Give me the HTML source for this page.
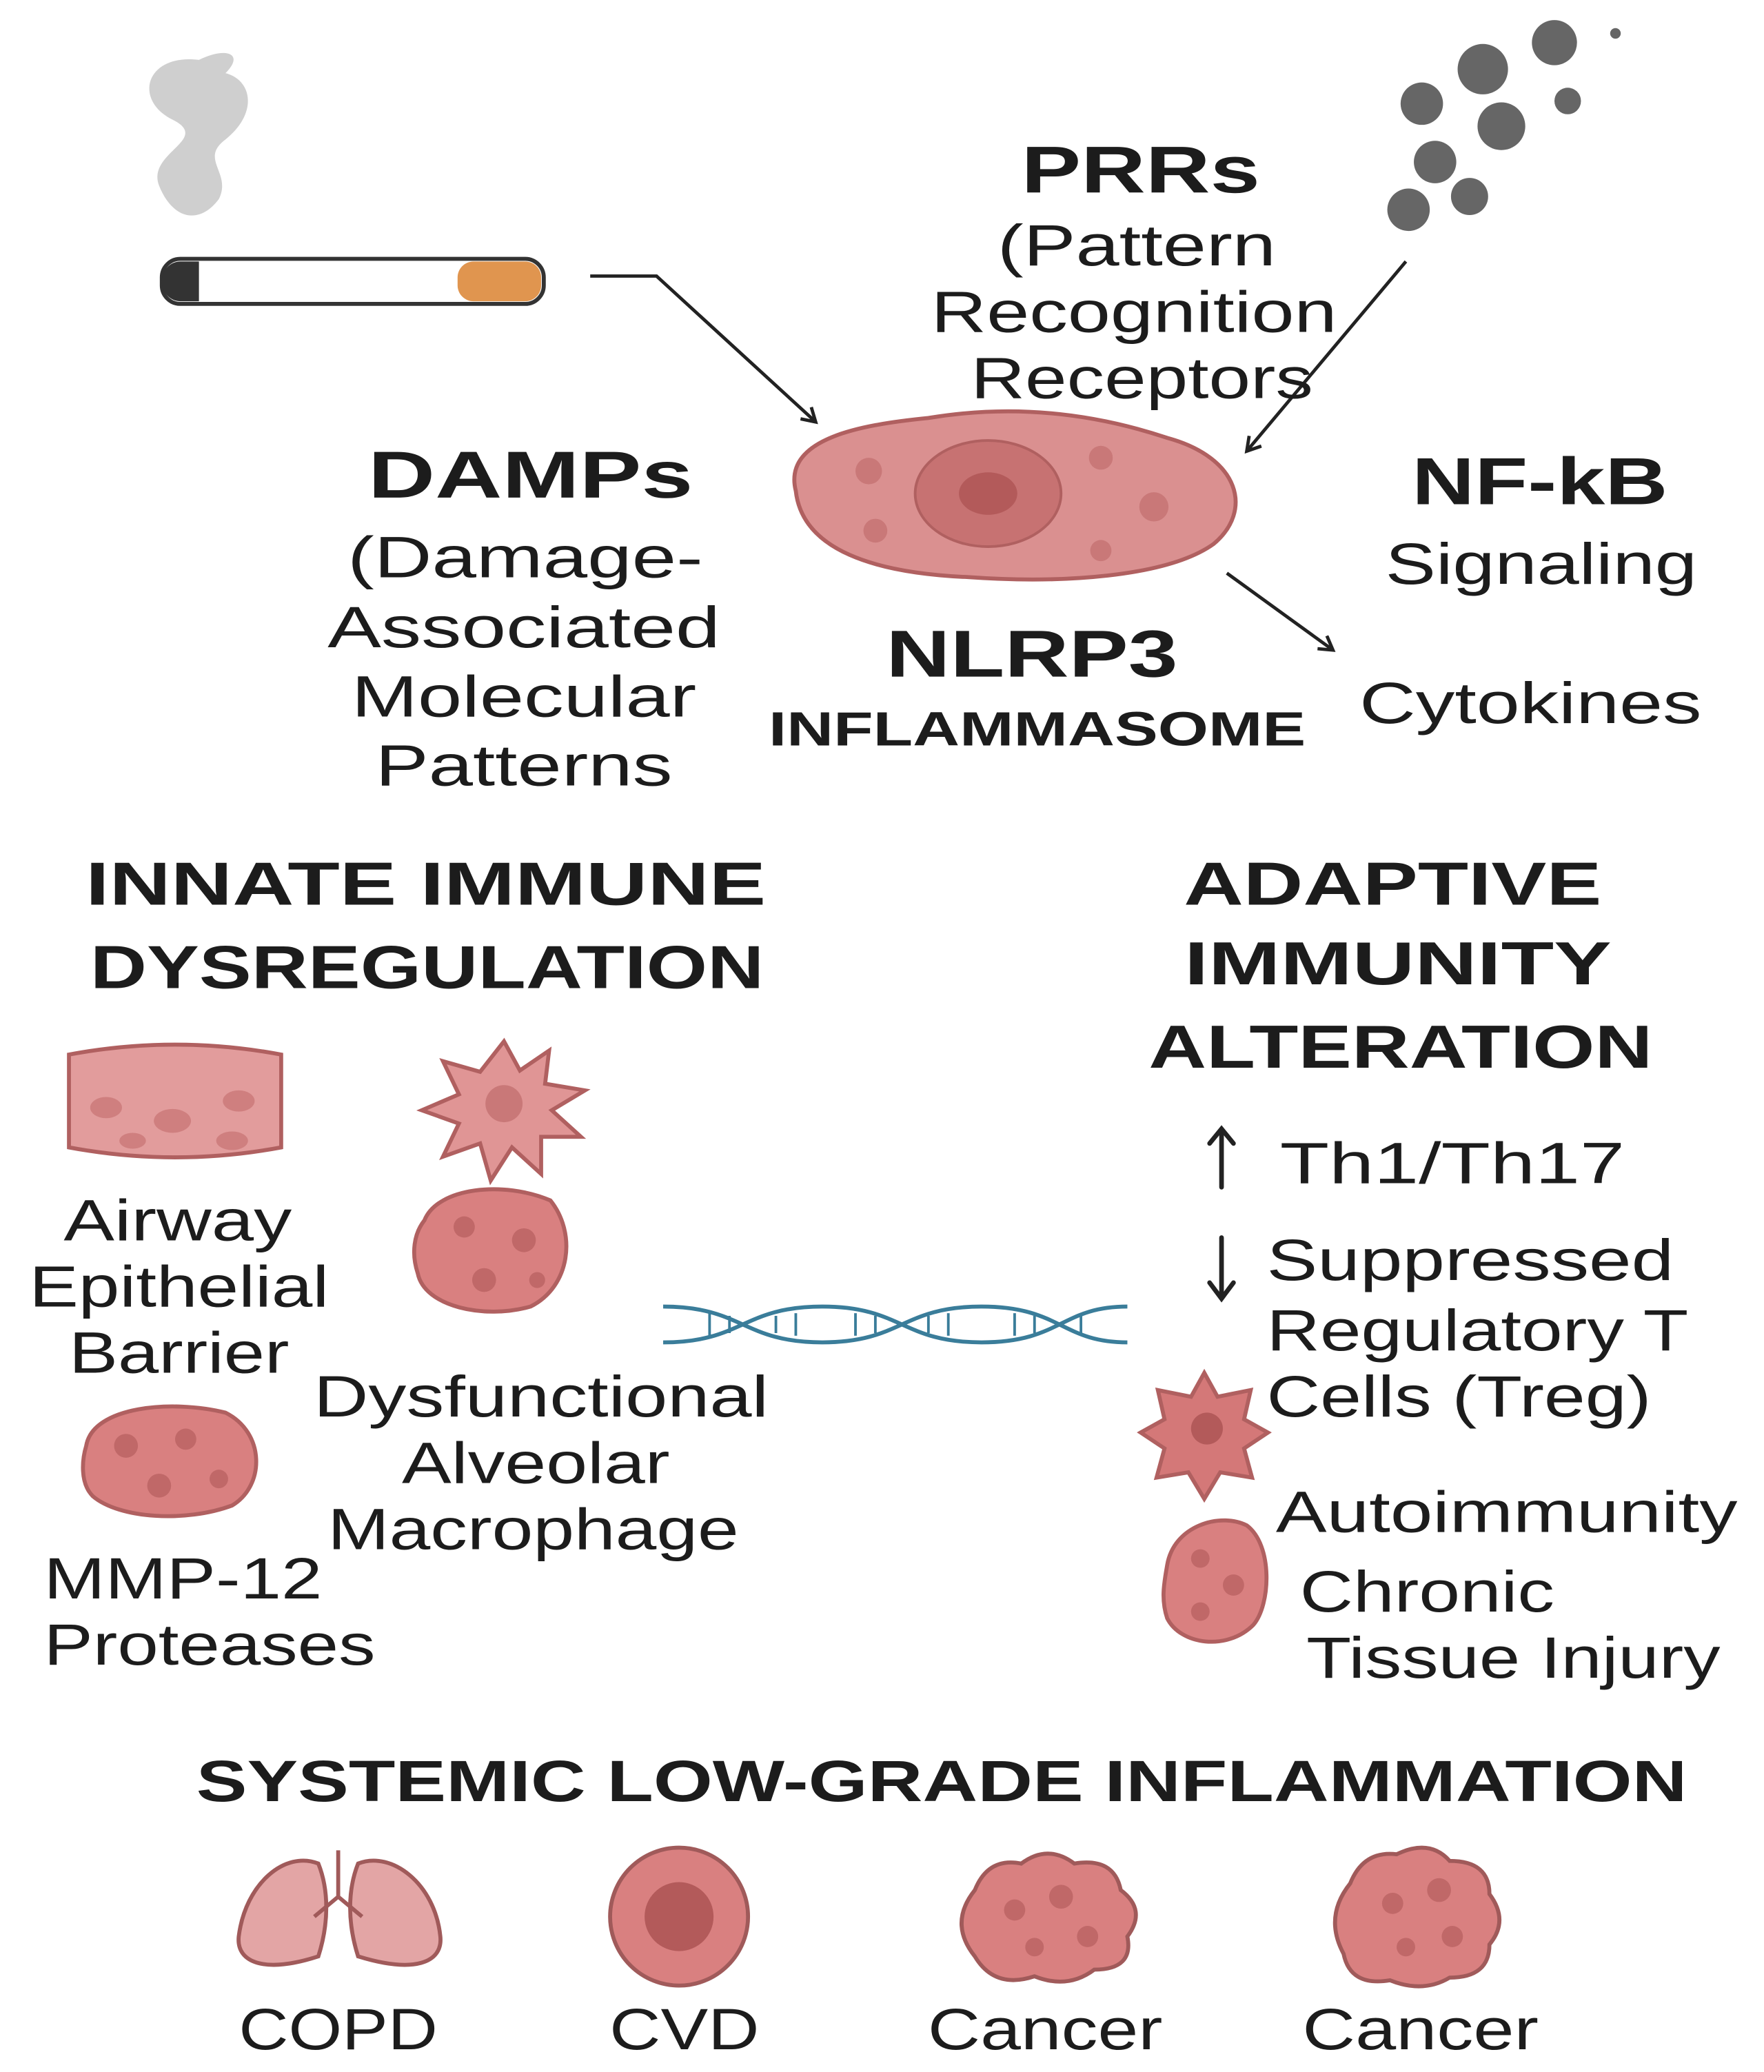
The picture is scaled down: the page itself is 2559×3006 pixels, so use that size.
<!DOCTYPE html>
<html><head><meta charset="utf-8"><style>
html,body{margin:0;padding:0;background:#fff;}
svg{display:block;}
text{font-family:"Liberation Sans",sans-serif;fill:#1c1c1c;}
.b{font-weight:bold;}
.m{text-anchor:middle;}
</style></head><body>
<svg width="2559" height="3006" viewBox="0 0 1330 1562" xmlns="http://www.w3.org/2000/svg">
<defs>
<marker id="ar" markerWidth="14" markerHeight="14" refX="11" refY="7" orient="auto" markerUnits="userSpaceOnUse">
<path d="M1,1 L11,7 L1,13" fill="none" stroke="#222" stroke-width="2.5"/></marker>
</defs>
<!-- smoke -->
<path d="M150,45 C110,40 100,75 130,90 C160,105 110,115 120,140 C130,165 150,170 165,150 C175,130 150,120 170,105 C195,85 190,60 170,55 C185,40 170,35 150,45Z" fill="#cfcfcf"/>
<!-- cigarette -->
<rect x="122" y="195" width="288" height="34" rx="14" fill="#fff" stroke="#333" stroke-width="3"/>
<rect x="345" y="197" width="63" height="30" rx="12" fill="#e0954f"/>
<path d="M136,197 a14,15 0 0 0 0,30 h14 v-30z" fill="#333"/>
<!-- dots -->
<g fill="#666">
<circle cx="1172" cy="32" r="17"/><circle cx="1218" cy="25" r="4"/>
<circle cx="1118" cy="52" r="19"/><circle cx="1072" cy="78" r="16"/><circle cx="1132" cy="95" r="18"/>
<circle cx="1082" cy="122" r="16"/><circle cx="1062" cy="158" r="16"/><circle cx="1108" cy="148" r="14"/>
<circle cx="1182" cy="76" r="10"/>
</g>
<!-- arrows -->
<polyline points="445,208 495,208 615,318" fill="none" stroke="#222" stroke-width="2.5" marker-end="url(#ar)"/>
<line x1="1060" y1="197" x2="940" y2="340" stroke="#222" stroke-width="2.5" marker-end="url(#ar)"/>
<line x1="925" y1="432" x2="1005" y2="490" stroke="#222" stroke-width="2.5" marker-end="url(#ar)"/>
<!-- central cell -->
<path d="M600,370 C590,330 650,320 700,315 C760,305 820,310 880,330 C935,345 945,385 915,410 C880,435 800,440 730,435 C660,432 605,415 600,370Z" fill="#da9090" stroke="#b06060" stroke-width="3"/>
<ellipse cx="745" cy="372" rx="55" ry="40" fill="#c77272" stroke="#b06060" stroke-width="2"/>
<ellipse cx="745" cy="372" rx="22" ry="16" fill="#b35a5a"/>
<g fill="#c97878"><circle cx="655" cy="355" r="10"/><circle cx="660" cy="400" r="9"/><circle cx="830" cy="345" r="9"/><circle cx="870" cy="382" r="11"/><circle cx="830" cy="415" r="8"/></g>
<g lengthAdjust="spacingAndGlyphs">
<text class="b m" x="860" y="145" font-size="50" textLength="180" lengthAdjust="spacingAndGlyphs">PRRs</text>
<text class="m" x="857" y="200" font-size="44" textLength="210" lengthAdjust="spacingAndGlyphs">(Pattern</text>
<text class="m" x="855" y="250" font-size="44" textLength="306" lengthAdjust="spacingAndGlyphs">Recognition</text>
<text class="m" x="861" y="300" font-size="44" textLength="258" lengthAdjust="spacingAndGlyphs">Receptors</text>
<text class="b m" x="400" y="375" font-size="50" textLength="245" lengthAdjust="spacingAndGlyphs">DAMPs</text>
<text class="m" x="396" y="435" font-size="44" textLength="268" lengthAdjust="spacingAndGlyphs">(Damage-</text>
<text class="m" x="395" y="488" font-size="44" textLength="296" lengthAdjust="spacingAndGlyphs">Associated</text>
<text class="m" x="395" y="540" font-size="44" textLength="260" lengthAdjust="spacingAndGlyphs">Molecular</text>
<text class="m" x="395" y="592" font-size="44" textLength="224" lengthAdjust="spacingAndGlyphs">Patterns</text>
<text class="b m" x="1161" y="380" font-size="50" textLength="193" lengthAdjust="spacingAndGlyphs">NF-kB</text>
<text class="m" x="1162" y="440" font-size="44" textLength="235" lengthAdjust="spacingAndGlyphs">Signaling</text>
<text class="b m" x="778" y="510" font-size="50" textLength="220" lengthAdjust="spacingAndGlyphs">NLRP3</text>
<text class="b m" x="782" y="562" font-size="36" textLength="405" lengthAdjust="spacingAndGlyphs">INFLAMMASOME</text>
<text class="m" x="1154" y="545" font-size="44" textLength="258" lengthAdjust="spacingAndGlyphs">Cytokines</text>
<text class="b m" x="321" y="682" font-size="46" textLength="513" lengthAdjust="spacingAndGlyphs">INNATE IMMUNE</text>
<text class="b m" x="322" y="745" font-size="46" textLength="508" lengthAdjust="spacingAndGlyphs">DYSREGULATION</text>
<text class="b m" x="1050" y="682" font-size="46" textLength="315" lengthAdjust="spacingAndGlyphs">ADAPTIVE</text>
<text class="b m" x="1054" y="742" font-size="46" textLength="322" lengthAdjust="spacingAndGlyphs">IMMUNITY</text>
<text class="b m" x="1056" y="805" font-size="46" textLength="380" lengthAdjust="spacingAndGlyphs">ALTERATION</text>
</g>
<!-- epithelium -->
<path d="M52,795 q80,-15 160,0 v70 q-80,15 -160,0z" fill="#e29c9c" stroke="#b06060" stroke-width="3"/>
<g fill="#cf7f7f"><ellipse cx="80" cy="835" rx="12" ry="8"/><ellipse cx="130" cy="845" rx="14" ry="9"/><ellipse cx="180" cy="830" rx="12" ry="8"/><ellipse cx="100" cy="860" rx="10" ry="6"/><ellipse cx="175" cy="860" rx="12" ry="7"/></g>
<!-- star cell -->
<path d="M380,785 l12,22 22,-15 -3,25 30,5 -25,15 22,20 -30,0 0,28 -22,-20 -16,25 -8,-28 -28,10 12,-25 -28,-10 28,-12 -12,-25 28,8z" fill="#e09595" stroke="#b06060" stroke-width="3"/>
<circle cx="380" cy="832" r="14" fill="#c97878"/>
<!-- round cell -->
<path d="M320,920 C330,895 380,890 415,905 C435,930 430,970 400,985 C365,995 320,985 315,960 C310,945 312,930 320,920Z" fill="#d98080" stroke="#b06060" stroke-width="3"/>
<g fill="#c06868"><circle cx="350" cy="925" r="8"/><circle cx="395" cy="935" r="9"/><circle cx="365" cy="965" r="9"/><circle cx="405" cy="965" r="6"/></g>
<text class="m" x="134" y="935" font-size="44" textLength="172" lengthAdjust="spacingAndGlyphs">Airway</text>
<text class="m" x="135" y="985" font-size="44" textLength="226" lengthAdjust="spacingAndGlyphs">Epithelial</text>
<text class="m" x="135" y="1035" font-size="44" textLength="166" lengthAdjust="spacingAndGlyphs">Barrier</text>
<path d="M65,1090 C70,1060 130,1055 170,1065 C200,1080 200,1120 175,1135 C140,1148 90,1145 70,1128 C60,1118 62,1100 65,1090Z" fill="#d98080" stroke="#b06060" stroke-width="3"/>
<g fill="#c06868"><circle cx="95" cy="1090" r="9"/><circle cx="140" cy="1085" r="8"/><circle cx="120" cy="1120" r="9"/><circle cx="165" cy="1115" r="7"/></g>
<text class="m" x="408" y="1068" font-size="44" textLength="343" lengthAdjust="spacingAndGlyphs">Dysfunctional</text>
<text class="m" x="404" y="1118" font-size="44" textLength="202" lengthAdjust="spacingAndGlyphs">Alveolar</text>
<text class="m" x="402" y="1168" font-size="44" textLength="310" lengthAdjust="spacingAndGlyphs">Macrophage</text>
<text x="33" y="1205" font-size="44" textLength="210" lengthAdjust="spacingAndGlyphs">MMP-12</text>
<text x="33" y="1255" font-size="44" textLength="250" lengthAdjust="spacingAndGlyphs">Proteases</text>
<!-- DNA -->
<g stroke="#3a7d9a" stroke-width="3" fill="none">
<path d="M500,985 C560,985 560,1012 620,1012 C680,1012 680,985 740,985 C800,985 800,1012 850,1012"/>
<path d="M500,1012 C560,1012 560,985 620,985 C680,985 680,1012 740,1012 C800,1012 800,985 850,985"/>
<g stroke-width="2"><line x1="535" y1="990" x2="535" y2="1007"/><line x1="550" y1="992" x2="550" y2="1005"/><line x1="585" y1="992" x2="585" y2="1005"/><line x1="600" y1="990" x2="600" y2="1007"/><line x1="645" y1="990" x2="645" y2="1007"/><line x1="660" y1="992" x2="660" y2="1005"/><line x1="700" y1="992" x2="700" y2="1005"/><line x1="715" y1="990" x2="715" y2="1007"/><line x1="765" y1="990" x2="765" y2="1007"/><line x1="780" y1="992" x2="780" y2="1005"/><line x1="815" y1="990" x2="815" y2="1007"/></g>
</g>
<g stroke="#222" stroke-width="3.5" fill="none" stroke-linecap="round">
<line x1="921" y1="852" x2="921" y2="895"/><path d="M912,862 L921,851 L930,862"/>
<line x1="921" y1="933" x2="921" y2="978"/><path d="M912,967 L921,979 L930,967"/>
</g>
<text x="965" y="892" font-size="44" textLength="260" lengthAdjust="spacingAndGlyphs">Th1/Th17</text>
<text x="955" y="965" font-size="44" textLength="307" lengthAdjust="spacingAndGlyphs">Suppressed</text>
<text x="955" y="1018" font-size="44" textLength="318" lengthAdjust="spacingAndGlyphs">Regulatory T</text>
<text x="955" y="1068" font-size="44" textLength="290" lengthAdjust="spacingAndGlyphs">Cells (Treg)</text>
<path d="M908,1035 l10,18 25,-5 -5,22 18,10 -18,12 6,22 -24,-4 -12,20 -12,-20 -24,4 6,-22 -18,-12 18,-10 -5,-22 25,5z" fill="#d47878" stroke="#b06060" stroke-width="3"/>
<circle cx="910" cy="1077" r="12" fill="#b35a5a"/>
<path d="M880,1180 C885,1150 920,1140 940,1150 C960,1165 958,1210 945,1225 C925,1245 890,1240 880,1220 C875,1205 878,1192 880,1180Z" fill="#d98080" stroke="#b06060" stroke-width="3"/>
<g fill="#c06868"><circle cx="905" cy="1175" r="7"/><circle cx="930" cy="1195" r="8"/><circle cx="905" cy="1215" r="7"/></g>
<text x="962" y="1155" font-size="44" textLength="348" lengthAdjust="spacingAndGlyphs">Autoimmunity</text>
<text x="980" y="1215" font-size="44" textLength="192" lengthAdjust="spacingAndGlyphs">Chronic</text>
<text x="985" y="1265" font-size="44" textLength="312" lengthAdjust="spacingAndGlyphs">Tissue Injury</text>
<text class="b m" x="710" y="1358" font-size="44" textLength="1124" lengthAdjust="spacingAndGlyphs">SYSTEMIC LOW-GRADE INFLAMMATION</text>
<!-- lungs -->
<g stroke="#a05a5a" stroke-width="3" fill="#e3a5a5">
<path d="M240,1405 C215,1395 185,1420 180,1460 C178,1480 200,1488 240,1475 C248,1450 248,1425 240,1405Z"/>
<path d="M270,1405 C295,1395 328,1420 332,1460 C334,1480 312,1488 270,1475 C262,1450 262,1425 270,1405Z"/>
<path d="M255,1395 v35 M255,1430 l-18,15 M255,1430 l18,15" fill="none"/>
</g>
<circle cx="512" cy="1445" r="52" fill="#d98080" stroke="#a05a5a" stroke-width="3"/>
<circle cx="512" cy="1445" r="26" fill="#b35a5a"/>
<path d="M735,1425 q10,-25 35,-20 q20,-15 40,0 q30,-5 35,20 q20,15 5,35 q5,25 -25,25 q-20,15 -45,5 q-30,10 -45,-15 q-20,-25 0,-50z" fill="#d98080" stroke="#a05a5a" stroke-width="3"/>
<g fill="#c06868"><circle cx="765" cy="1440" r="8"/><circle cx="800" cy="1430" r="9"/><circle cx="820" cy="1460" r="8"/><circle cx="780" cy="1468" r="7"/></g>
<path d="M1018,1420 q10,-25 35,-22 q25,-12 40,5 q30,0 30,25 q15,20 0,38 q0,25 -30,25 q-20,12 -45,2 q-30,5 -35,-20 q-15,-28 5,-53z" fill="#d98080" stroke="#a05a5a" stroke-width="3"/>
<g fill="#c06868"><circle cx="1050" cy="1435" r="8"/><circle cx="1085" cy="1425" r="9"/><circle cx="1095" cy="1460" r="8"/><circle cx="1060" cy="1468" r="7"/></g>
<text class="m" x="255" y="1545" font-size="44" textLength="150" lengthAdjust="spacingAndGlyphs">COPD</text>
<text class="m" x="516" y="1545" font-size="44" textLength="113" lengthAdjust="spacingAndGlyphs">CVD</text>
<text class="m" x="788" y="1545" font-size="44" textLength="177" lengthAdjust="spacingAndGlyphs">Cancer</text>
<text class="m" x="1071" y="1545" font-size="44" textLength="178" lengthAdjust="spacingAndGlyphs">Cancer</text>
</svg>
</body></html>
